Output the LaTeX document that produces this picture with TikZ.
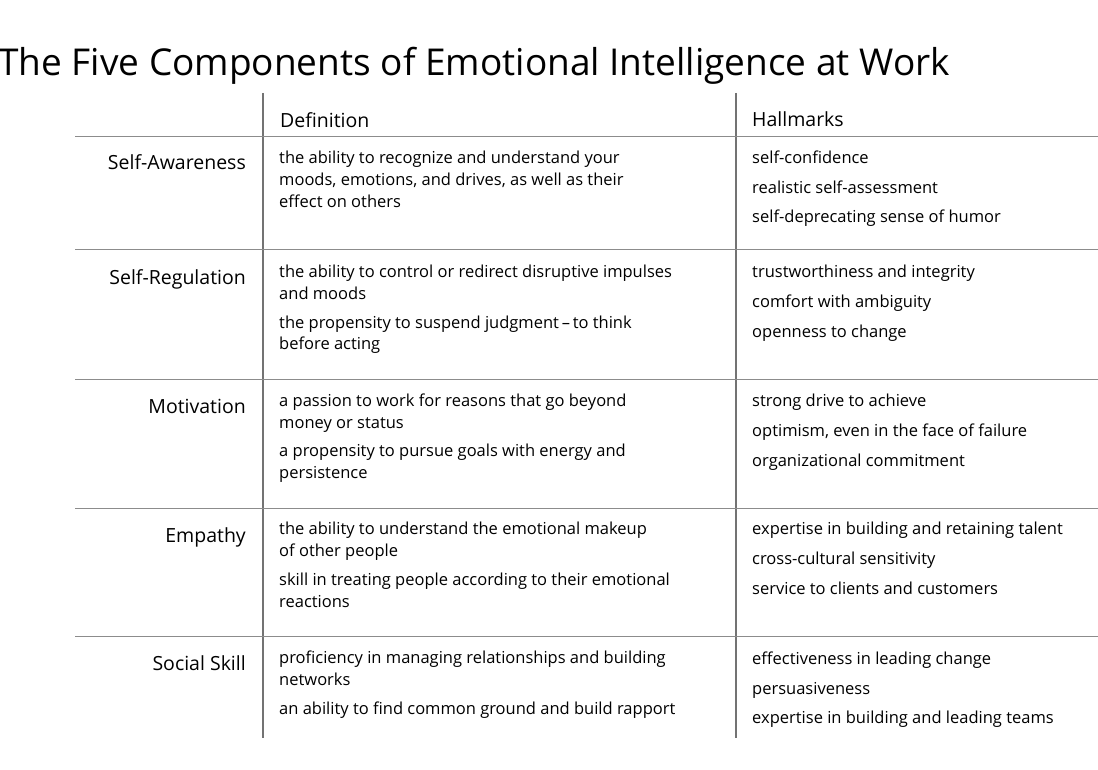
\documentclass[tikz,border=0pt]{standalone}
\usepackage{fontspec}
\setmainfont{Open Sans}
\begin{document}
\begin{tikzpicture}[x=1pt,y=-1pt,
  rule/.style={draw=black!45,line width=1pt},
  vrule/.style={draw=black!55,line width=1.4pt},
  body/.style={anchor=base west,inner sep=0pt,font=\fontsize{16.5}{20}\selectfont},
  head/.style={anchor=base west,inner sep=0pt,font=\fontsize{19.5}{24}\selectfont},
  lab/.style={anchor=base east,inner sep=0pt,font=\fontsize{19.5}{24}\selectfont}]
\useasboundingbox (0,0) rectangle (1098,770);
\node[anchor=base west,inner sep=0pt,font=\fontsize{37}{44}\selectfont] (title) at (-2,76) {The Five Components of Emotional Intelligence at Work};
\coordinate (v1t) at (263,93); \coordinate (v1b) at (263,738);
\coordinate (v2t) at (736,93); \coordinate (v2b) at (736,738);
\draw[vrule] (v1t) -- (v1b);
\draw[vrule] (v2t) -- (v2b);
\foreach \y/\n in {137/a,250/b,379/c,508/d,636/e}{
  \coordinate (h\n l) at (75,\y); \coordinate (h\n r) at (1098,\y);
  \draw[rule] (h\n l) -- (h\n r);}
\node[head] (hd1) at (280,128) {Definition};
\node[head] (hd2) at (752,127) {Hallmarks};
% labels
\node[lab] (l1) at (246,170) {Self-Awareness};
\node[lab] (l2) at (246,284) {Self-Regulation};
\node[lab] (l3) at (246,413) {Motivation};
\node[lab] (l4) at (246,542) {Empathy};
\node[lab] (l5) at (246,670) {Social Skill};
% row 1
\node[body] (d11) at (279,164) {the ability to recognize and understand your};
\node[body] (d12) at (279,186) {moods, emotions, and drives, as well as their};
\node[body] (d13) at (279,208) {effect on others};
\node[body] (m11) at (752,164) {self-confidence};
\node[body] (m12) at (752,194) {realistic self-assessment};
\node[body] (m13) at (752,223) {self-deprecating sense of humor};
% row 2
\node[body] (d21) at (279,277) {the ability to control or redirect disruptive impulses};
\node[body] (d22) at (279,299) {and moods};
\node[body] (d23) at (279,328) {the propensity to suspend judgment\,–\,to think};
\node[body] (d24) at (279,349) {before acting};
\node[body] (m21) at (752,277) {trustworthiness and integrity};
\node[body] (m22) at (752,307) {comfort with ambiguity};
\node[body] (m23) at (752,337) {openness to change};
% row 3
\node[body] (d31) at (279,406) {a passion to work for reasons that go beyond};
\node[body] (d32) at (279,428) {money or status};
\node[body] (d33) at (279,456) {a propensity to pursue goals with energy and};
\node[body] (d34) at (279,478) {persistence};
\node[body] (m31) at (752,406) {strong drive to achieve};
\node[body] (m32) at (752,436) {optimism, even in the face of failure};
\node[body] (m33) at (752,466) {organizational commitment};
% row 4
\node[body] (d41) at (279,534) {the ability to understand the emotional makeup};
\node[body] (d42) at (279,556) {of other people};
\node[body] (d43) at (279,585) {skill in treating people according to their emotional};
\node[body] (d44) at (279,607) {reactions};
\node[body] (m41) at (752,534) {expertise in building and retaining talent};
\node[body] (m42) at (752,564) {cross-cultural sensitivity};
\node[body] (m43) at (752,594) {service to clients and customers};
% row 5
\node[body] (d51) at (279,663) {proficiency in managing relationships and building};
\node[body] (d52) at (279,685) {networks};
\node[body] (d53) at (279,714) {an ability to find common ground and build rapport};
\node[body] (m51) at (752,664) {effectiveness in leading change};
\node[body] (m52) at (752,694) {persuasiveness};
\node[body] (m53) at (752,723) {expertise in building and leading teams};
\end{tikzpicture}
\end{document}
